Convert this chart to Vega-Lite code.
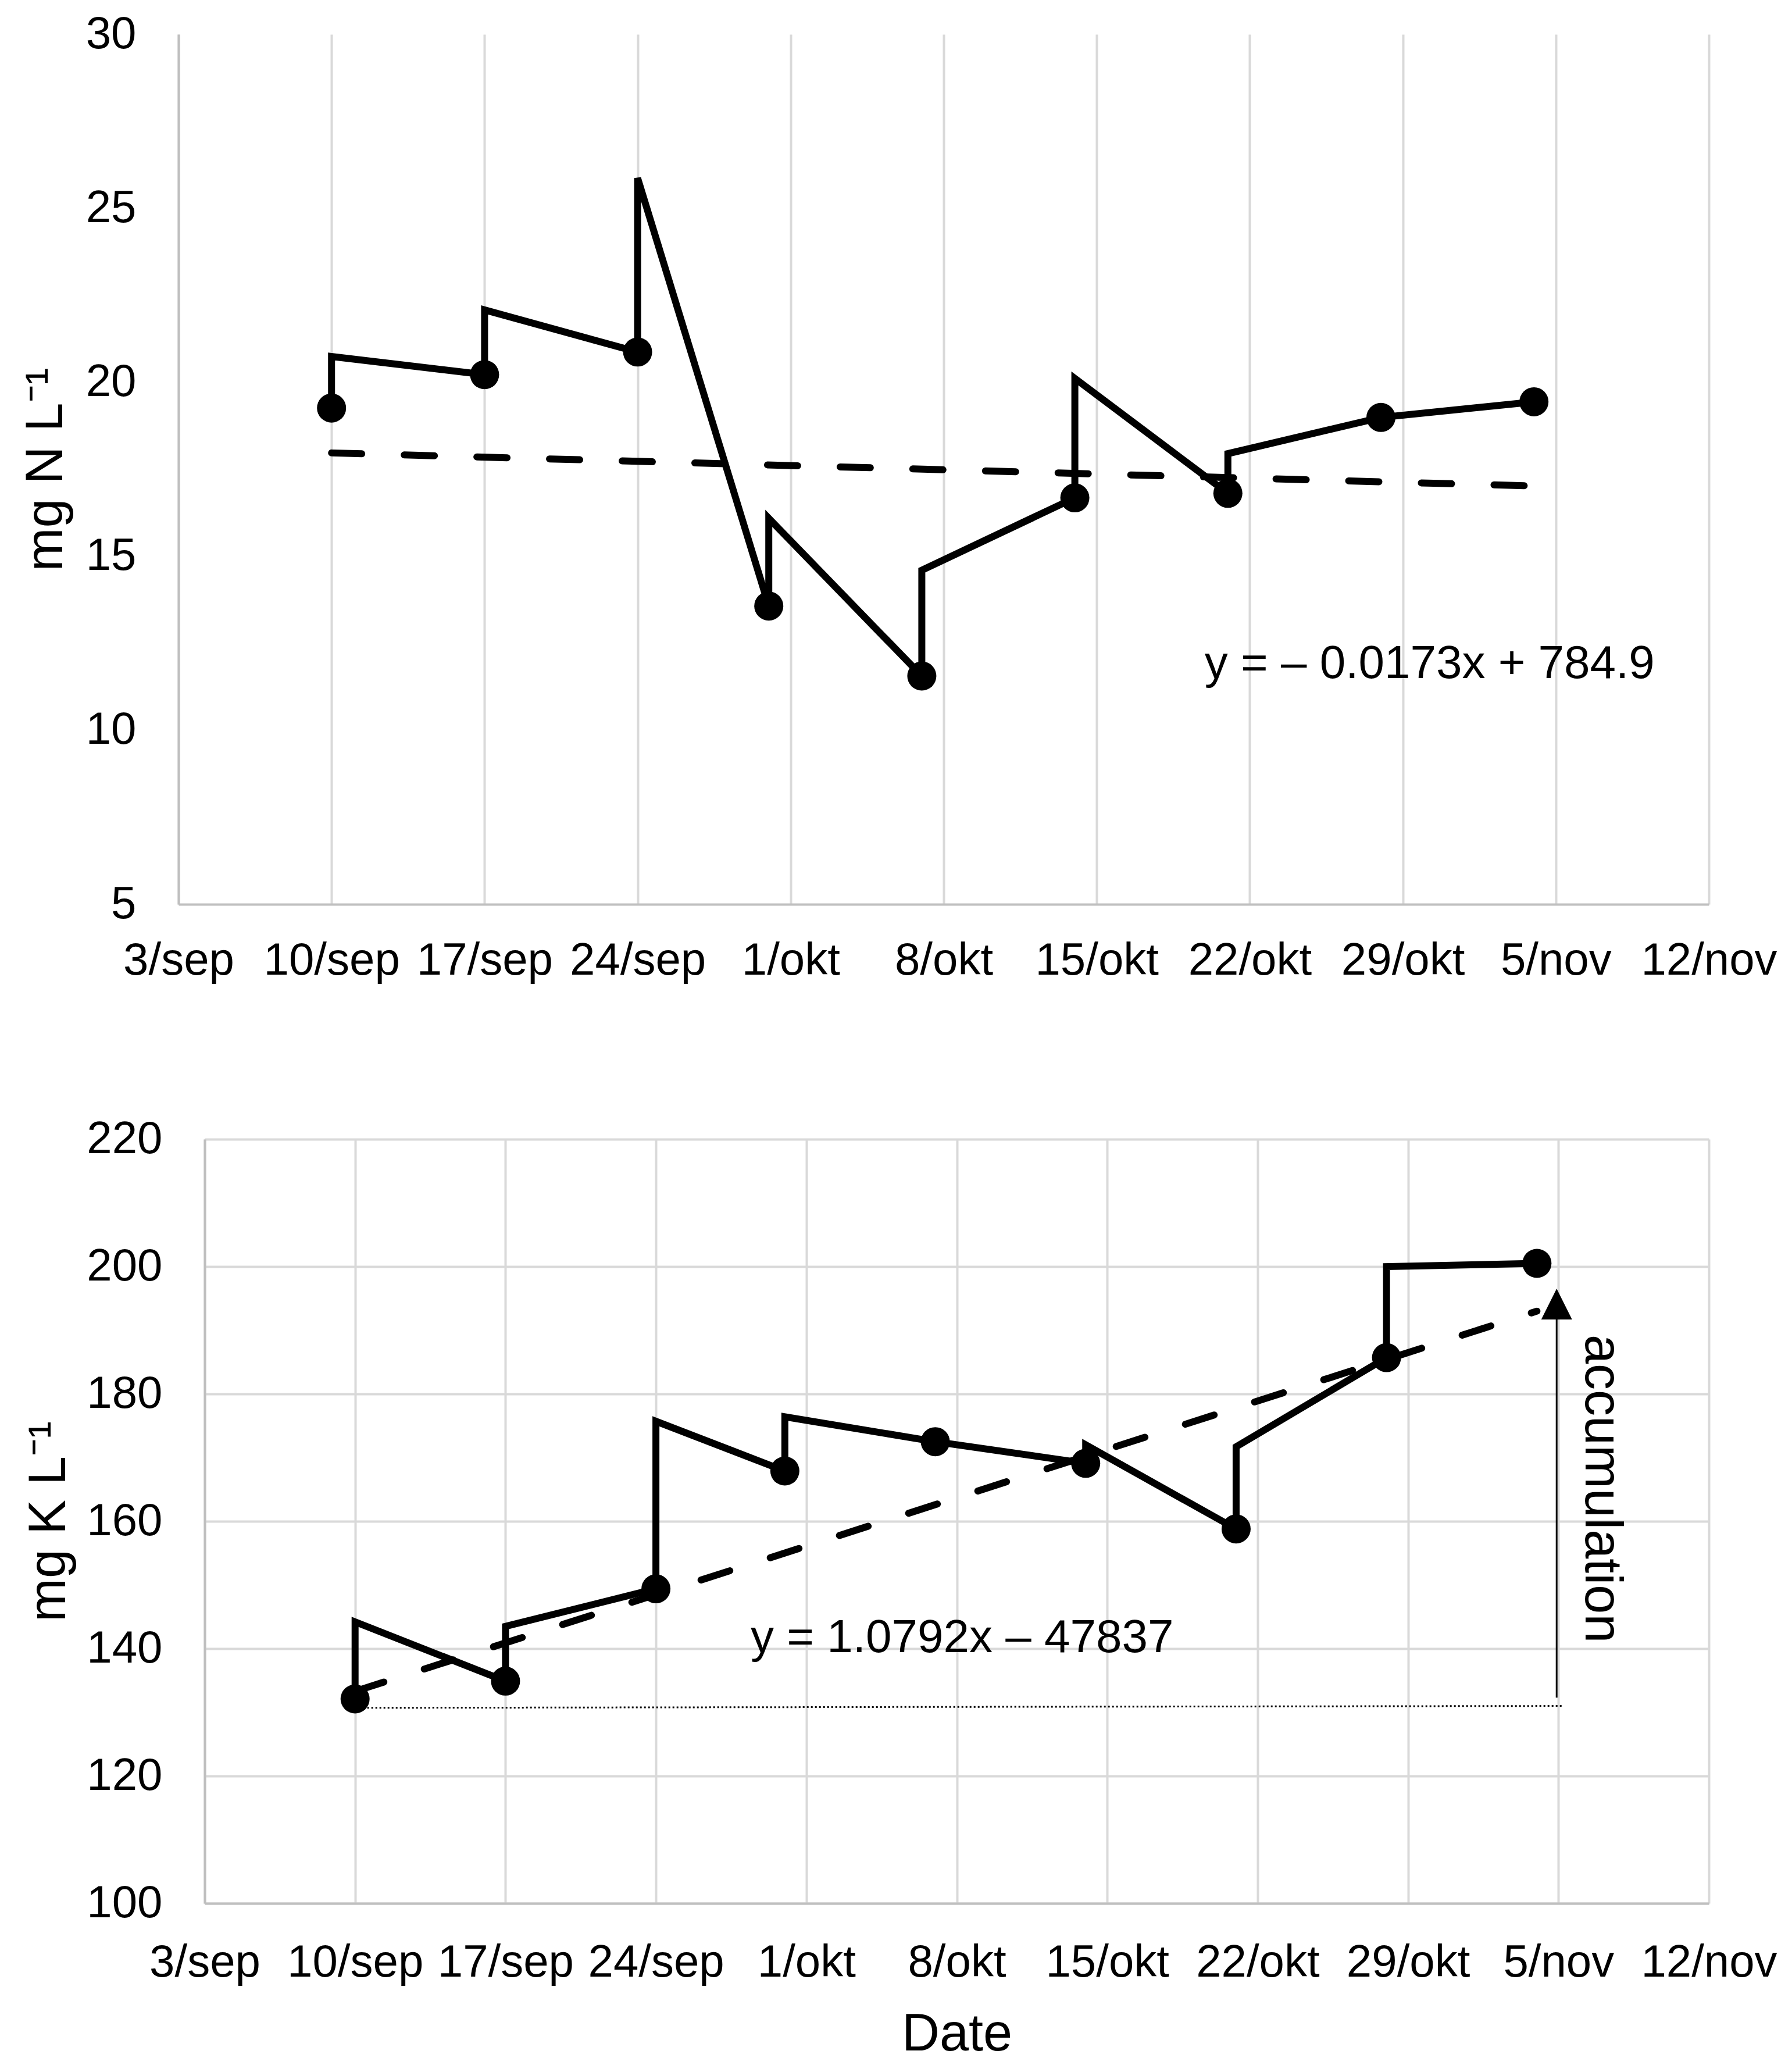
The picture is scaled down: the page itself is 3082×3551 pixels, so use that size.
{
  "$schema": "https://vega.github.io/schema/vega-lite/v6.json",
  "padding": {"left": 34, "top": 20, "right": 5, "bottom": 5},
  "background": "white",
  "spacing": 229,
  "datasets": {
    "nGrid": [{"value": 10}, {"value": 15}, {"value": 20}, {"value": 25}, {"value": 30}],
    "nLine": [
      {"date": "2021-09-10T00:00:00", "value": 19.26, "o": 1},
      {"date": "2021-09-10T00:00:00", "value": 20.74, "o": 2},
      {"date": "2021-09-17T00:00:00", "value": 20.22, "o": 3},
      {"date": "2021-09-17T00:00:00", "value": 22.08, "o": 4},
      {"date": "2021-09-24T00:00:00", "value": 20.87, "o": 5},
      {"date": "2021-09-24T00:00:00", "value": 25.87, "o": 6},
      {"date": "2021-09-30T00:00:00", "value": 13.57, "o": 7},
      {"date": "2021-09-30T00:00:00", "value": 16.09, "o": 8},
      {"date": "2021-10-07T00:00:00", "value": 11.56, "o": 9},
      {"date": "2021-10-07T00:00:00", "value": 14.60, "o": 10},
      {"date": "2021-10-14T00:00:00", "value": 16.68, "o": 11},
      {"date": "2021-10-14T00:00:00", "value": 20.11, "o": 12},
      {"date": "2021-10-21T00:00:00", "value": 16.81, "o": 13},
      {"date": "2021-10-21T00:00:00", "value": 17.95, "o": 14},
      {"date": "2021-10-28T00:00:00", "value": 18.99, "o": 15},
      {"date": "2021-11-04T00:00:00", "value": 19.44, "o": 16}
    ],
    "nPoints": [
      {"date": "2021-09-10T00:00:00", "value": 19.26},
      {"date": "2021-09-17T00:00:00", "value": 20.22},
      {"date": "2021-09-24T00:00:00", "value": 20.87},
      {"date": "2021-09-30T00:00:00", "value": 13.57},
      {"date": "2021-10-07T00:00:00", "value": 11.56},
      {"date": "2021-10-14T00:00:00", "value": 16.68},
      {"date": "2021-10-21T00:00:00", "value": 16.81},
      {"date": "2021-10-28T00:00:00", "value": 18.99},
      {"date": "2021-11-04T00:00:00", "value": 19.44}
    ],
    "nTrend": [
      {"date": "2021-09-10T00:00:00", "value": 17.97},
      {"date": "2021-11-04T00:00:00", "value": 17.02}
    ],
    "nText": [
      {"date": "2021-10-30T05:30:00", "value": 11.9, "label": "y = – 0.0173x + 784.9"}
    ],
    "kLine": [
      {"date": "2021-09-10T00:00:00", "value": 132.1, "o": 1},
      {"date": "2021-09-10T00:00:00", "value": 144.2, "o": 2},
      {"date": "2021-09-17T00:00:00", "value": 134.9, "o": 3},
      {"date": "2021-09-17T00:00:00", "value": 143.5, "o": 4},
      {"date": "2021-09-24T00:00:00", "value": 149.4, "o": 5},
      {"date": "2021-09-24T00:00:00", "value": 175.7, "o": 6},
      {"date": "2021-09-30T00:00:00", "value": 167.9, "o": 7},
      {"date": "2021-09-30T00:00:00", "value": 176.4, "o": 8},
      {"date": "2021-10-07T00:00:00", "value": 172.5, "o": 9},
      {"date": "2021-10-14T00:00:00", "value": 169.1, "o": 10},
      {"date": "2021-10-14T00:00:00", "value": 172.0, "o": 11},
      {"date": "2021-10-21T00:00:00", "value": 158.8, "o": 12},
      {"date": "2021-10-21T00:00:00", "value": 171.7, "o": 13},
      {"date": "2021-10-28T00:00:00", "value": 185.7, "o": 14},
      {"date": "2021-10-28T00:00:00", "value": 200.0, "o": 15},
      {"date": "2021-11-04T00:00:00", "value": 200.5, "o": 16}
    ],
    "kPoints": [
      {"date": "2021-09-10T00:00:00", "value": 132.1},
      {"date": "2021-09-17T00:00:00", "value": 134.9},
      {"date": "2021-09-24T00:00:00", "value": 149.4},
      {"date": "2021-09-30T00:00:00", "value": 167.9},
      {"date": "2021-10-07T00:00:00", "value": 172.5},
      {"date": "2021-10-14T00:00:00", "value": 169.1},
      {"date": "2021-10-21T00:00:00", "value": 158.8},
      {"date": "2021-10-28T00:00:00", "value": 185.7},
      {"date": "2021-11-04T00:00:00", "value": 200.5}
    ],
    "kTrend": [
      {"date": "2021-09-10T00:00:00", "value": 133.3},
      {"date": "2021-11-04T00:00:00", "value": 193.0}
    ],
    "kBase": [
      {"date": "2021-09-10T00:00:00", "value": 130.7},
      {"date": "2021-11-05T05:00:00", "value": 131.0}
    ],
    "kArrow": [
      {"date": "2021-11-04T22:00:00", "value": 132.3},
      {"date": "2021-11-04T22:00:00", "value": 192.5}
    ],
    "kHead": [
      {"date": "2021-11-04T22:00:00", "value": 194.1}
    ],
    "kText": [
      {"date": "2021-10-08T06:00:00", "value": 141.6, "label": "y = 1.0792x – 47837", "angle": 0, "size": 80},
      {"date": "2021-11-07T00:00:00", "value": 165.1, "label": "accumulation", "angle": 90, "size": 90}
    ]
  },
  "vconcat": [
    {
      "width": 2587,
      "height": 1496,
      "encoding": {
        "x": {
          "field": "date", "type": "temporal",
          "scale": {"domain": [{"year": 2021, "month": 9, "date": 3}, {"year": 2021, "month": 11, "date": 12}], "range": [-45, 2587], "nice": false},
          "axis": {
            "title": null,
            "values": [
              {"year": 2021, "month": 9, "date": 3}, {"year": 2021, "month": 9, "date": 10},
              {"year": 2021, "month": 9, "date": 17}, {"year": 2021, "month": 9, "date": 24},
              {"year": 2021, "month": 10, "date": 1}, {"year": 2021, "month": 10, "date": 8},
              {"year": 2021, "month": 10, "date": 15}, {"year": 2021, "month": 10, "date": 22},
              {"year": 2021, "month": 10, "date": 29}, {"year": 2021, "month": 11, "date": 5},
              {"year": 2021, "month": 11, "date": 12}
            ],
            "labelExpr": "date(datum.value) + '/' + ['jan','feb','mar','apr','mai','jun','jul','aug','sep','okt','nov','des'][month(datum.value)]",
            "labelFlush": false, "labelOverlap": false, "labelLimit": 0, "labelPadding": 58
          }
        },
        "y": {
          "field": "value", "type": "quantitative",
          "scale": {"domain": [5, 30], "nice": false, "zero": false},
          "axis": {"values": [5, 10, 15, 20, 25, 30], "title": "mg N L⁻¹", "labelPadding": 73, "titlePadding": 22, "offset": 45, "grid": false}
        }
      },
      "layer": [
        {"data": {"name": "nGrid"}, "mark": {"type": "rule", "color": "#d9d9d9", "strokeWidth": 4}, "encoding": {"x": {"datum": {"year": 2021, "month": 9, "date": 3}, "type": "temporal"}, "x2": {"datum": {"year": 2021, "month": 11, "date": 12}}}},
        {"data": {"name": "nTrend"}, "mark": {"type": "line", "color": "black", "strokeWidth": 12, "strokeDash": [52, 73], "strokeCap": "round"}},
        {"data": {"name": "nLine"}, "mark": {"type": "line", "color": "black", "strokeWidth": 12, "strokeJoin": "miter"}, "encoding": {"order": {"field": "o", "type": "quantitative"}}},
        {"data": {"name": "nPoints"}, "mark": {"type": "point", "shape": "circle", "filled": true, "color": "black", "size": 2500, "opacity": 1}},
        {"data": {"name": "nText"}, "mark": {"type": "text", "fontSize": 80, "align": "center", "baseline": "middle", "color": "black"}, "encoding": {"text": {"field": "label"}}}
      ]
    },
    {
      "width": 2587,
      "height": 1314,
      "encoding": {
        "x": {
          "field": "date", "type": "temporal",
          "scale": {"domain": [{"year": 2021, "month": 9, "date": 3}, {"year": 2021, "month": 11, "date": 12}], "nice": false},
          "axis": {
            "title": "Date",
            "values": [
              {"year": 2021, "month": 9, "date": 3}, {"year": 2021, "month": 9, "date": 10},
              {"year": 2021, "month": 9, "date": 17}, {"year": 2021, "month": 9, "date": 24},
              {"year": 2021, "month": 10, "date": 1}, {"year": 2021, "month": 10, "date": 8},
              {"year": 2021, "month": 10, "date": 15}, {"year": 2021, "month": 10, "date": 22},
              {"year": 2021, "month": 10, "date": 29}, {"year": 2021, "month": 11, "date": 5},
              {"year": 2021, "month": 11, "date": 12}
            ],
            "labelExpr": "date(datum.value) + '/' + ['jan','feb','mar','apr','mai','jun','jul','aug','sep','okt','nov','des'][month(datum.value)]",
            "labelFlush": false, "labelOverlap": false, "labelLimit": 0, "labelPadding": 63, "titlePadding": 40
          }
        },
        "y": {
          "field": "value", "type": "quantitative",
          "scale": {"domain": [100, 220], "nice": false, "zero": false},
          "axis": {"values": [100, 120, 140, 160, 180, 200, 220], "title": "mg K L⁻¹", "labelPadding": 73, "titlePadding": 22}
        }
      },
      "layer": [
        {"data": {"name": "kBase"}, "mark": {"type": "line", "color": "black", "strokeWidth": 3, "strokeDash": [3, 4]}},
        {"data": {"name": "kTrend"}, "mark": {"type": "line", "color": "black", "strokeWidth": 12, "strokeDash": [52, 73], "strokeCap": "round"}},
        {"data": {"name": "kLine"}, "mark": {"type": "line", "color": "black", "strokeWidth": 12, "strokeJoin": "miter"}, "encoding": {"order": {"field": "o", "type": "quantitative"}}},
        {"data": {"name": "kPoints"}, "mark": {"type": "point", "shape": "circle", "filled": true, "color": "black", "size": 2500, "opacity": 1}},
        {"data": {"name": "kArrow"}, "mark": {"type": "line", "color": "black", "strokeWidth": 3}},
        {"data": {"name": "kHead"}, "mark": {"type": "point", "shape": "M0,-1L1,1L-1,1Z", "filled": true, "color": "black", "size": 2809, "opacity": 1}},
        {"data": {"name": "kText"}, "mark": {"type": "text", "align": "center", "baseline": "middle", "color": "black"}, "encoding": {"text": {"field": "label"}, "angle": {"field": "angle", "type": "quantitative", "scale": null}, "size": {"field": "size", "type": "quantitative", "scale": null}}}
      ]
    }
  ],
  "config": {
    "font": "Liberation Sans",
    "view": {"stroke": null},
    "axis": {
      "domainColor": "#bfbfbf", "domainWidth": 4,
      "gridColor": "#d9d9d9", "gridWidth": 4,
      "ticks": false,
      "labelColor": "black", "titleColor": "black",
      "labelFont": "Liberation Sans", "titleFont": "Liberation Sans",
      "titleFontWeight": "normal",
      "labelFontSize": 78, "titleFontSize": 90
    }
  }
}
